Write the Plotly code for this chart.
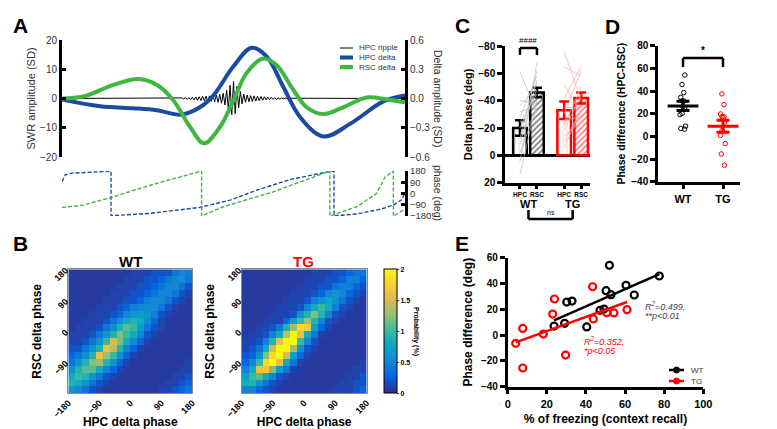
import numpy as np
import plotly.graph_objects as go

W, H = 777, 429
FONT = "Liberation Sans, Arial, sans-serif"
BLUE = "#1b4aa2"
GREEN = "#3fb63f"
RED = "#ff0000"

# ---------------- data ----------------
# A: averaged delta traces around SWR (time in ms)
hpc_delta_t = [-500, -389, -292, -224, -151, -98, -59, 0, 53, 97, 145, 194, 262, 340, 437, 500]
hpc_delta_sd = [-0.01, -0.08, -0.10, -0.12, -0.165, -0.09, 0.03, 0.33, 0.52, 0.43, 0.12, -0.19, -0.39, -0.26, -0.03, 0.03]
rsc_delta_t = [-500, -438, -350, -277, -224, -175, -127, -86, -39, 0, 38, 87, 126, 174, 213, 262, 320, 388, 447, 500]
rsc_delta_sd = [0.0, 0.02, 0.14, 0.20, 0.14, -0.02, -0.29, -0.46, -0.29, -0.02, 0.26, 0.41, 0.34, 0.09, -0.09, -0.16, -0.09, 0.01, -0.01, -0.04]

ripple_t = [-500] + list(range(-150, 155, 5)) + [500]
ripple_sd = [0,
             0.2, -0.2, 0.3, -0.3, 0.3, -0.4, 0.4, -0.5, 0.5, -0.6,
             0.6, -0.7, 0.7, -0.8, 0.8, -0.9, 0.9, -1.0, 1.0, -1.1,
             1.2, -1.3, 1.4, -1.6, 1.8, -2.2, 2.8, -3.6, 4.5, -5.5,
             5.8,
             -5.2, 4.2, -3.2, 2.4, -1.8, 1.5, -1.3, 1.2, -1.1, 1.0,
             -1.0, 0.9, -0.9, 0.8, -0.8, 0.7, -0.6, 0.6, -0.5, 0.5,
             -0.4, 0.4, -0.3, 0.3, -0.3, 0.2, -0.2, 0.2, -0.1, 0.1,
             0]

hpc_phase_t = [-500, -490, -470, -357, -357, -243, -98, -10, 68, 165, 281, 293, 293, 359, 430, 466, 490, 500]
hpc_phase = [95, 150, 163, 178, -178, -159, -111, -53, 27, 112, 176, 180, -178, -164, -125, -93, -50, 5]
rsc_phase_t = [-500, -438, -360, -243, -93, -93, -30, 116, 281, 281, 359, 417, 442, 461, 466, 466, 500]
rsc_phase = [-111, -93, -34, 66, 180, -180, -106, 13, 180, -180, -106, 0, 132, 175, 180, -180, -125]

# B: joint phase probability (%), rows listed top (RSC 170) -> bottom (RSC -170)
phase_bins = [-170, -150, -130, -110, -90, -70, -50, -30, -10, 10, 30, 50, 70, 90, 110, 130, 150, 170]
wt_prob = [
    [.07, .07, .07, .07, .07, .07, .07, .07, .07, .11, .11, .11, .18, .18, .18, .40, .50, .45],
    [.07, .07, .07, .07, .07, .07, .07, .07, .11, .11, .11, .18, .18, .28, .40, .50, .55, .40],
    [.07, .07, .07, .07, .07, .07, .07, .11, .11, .11, .18, .18, .28, .40, .50, .50, .40, .18],
    [.07, .07, .07, .07, .07, .07, .11, .11, .11, .18, .18, .28, .40, .50, .50, .40, .18, .11],
    [.07, .07, .07, .07, .07, .11, .11, .11, .18, .18, .28, .45, .50, .50, .40, .18, .11, .07],
    [.07, .07, .07, .07, .11, .11, .11, .18, .28, .45, .50, .55, .55, .40, .18, .11, .07, .07],
    [.07, .07, .07, .11, .11, .11, .18, .28, .50, .60, .70, .60, .45, .18, .11, .07, .07, .07],
    [.07, .07, .11, .11, .11, .18, .40, .60, .80, .90, .80, .55, .28, .11, .07, .07, .07, .07],
    [.07, .11, .11, .11, .18, .40, .60, .90, 1.1, 1.0, .70, .40, .18, .11, .07, .07, .07, .07],
    [.11, .11, .11, .18, .40, .60, .90, 1.2, 1.0, .80, .50, .18, .11, .07, .07, .07, .07, .07],
    [.11, .11, .18, .40, .60, 1.0, 1.5, 1.2, .80, .50, .28, .11, .07, .07, .07, .07, .07, .07],
    [.18, .18, .40, .60, .90, 1.6, 1.4, .90, .50, .28, .11, .07, .07, .07, .07, .07, .07, .07],
    [.28, .40, .60, .90, 1.6, 1.3, 1.0, .60, .28, .11, .07, .07, .07, .07, .07, .07, .07, .07],
    [.40, .60, .90, 1.2, 1.3, .90, .60, .28, .11, .07, .07, .07, .07, .07, .07, .07, .07, .11],
    [.60, .90, 1.1, 1.1, .80, .50, .28, .11, .07, .07, .07, .07, .07, .07, .07, .07, .11, .11],
    [.80, 1.0, .90, .60, .40, .18, .11, .07, .07, .07, .07, .07, .07, .07, .07, .11, .11, .18],
    [.90, .80, .60, .40, .18, .11, .07, .07, .07, .07, .07, .07, .07, .07, .11, .11, .18, .28],
    [.60, .50, .40, .18, .11, .07, .07, .07, .07, .07, .07, .07, .07, .11, .11, .18, .28, .40],
]
tg_prob = [
    [.07, .07, .07, .07, .07, .07, .07, .07, .07, .07, .11, .11, .11, .18, .18, .28, .40, .40],
    [.07, .07, .07, .07, .07, .07, .07, .07, .07, .11, .11, .11, .18, .18, .28, .45, .45, .28],
    [.07, .07, .07, .07, .07, .07, .07, .07, .11, .11, .11, .18, .18, .40, .45, .45, .28, .18],
    [.07, .07, .07, .07, .07, .07, .07, .11, .11, .11, .18, .28, .50, .60, .50, .28, .18, .11],
    [.07, .07, .07, .07, .07, .07, .11, .11, .11, .18, .45, .60, .75, .60, .40, .18, .11, .07],
    [.07, .07, .07, .07, .07, .11, .11, .11, .18, .50, .80, 1.0, .80, .45, .18, .11, .07, .07],
    [.07, .07, .07, .07, .11, .11, .11, .18, .60, .90, 1.2, .90, .50, .18, .11, .07, .07, .07],
    [.07, .07, .07, .11, .11, .11, .28, .70, 1.0, 1.3, .90, .50, .18, .11, .07, .07, .07, .07],
    [.07, .07, .11, .11, .18, .40, .90, 1.3, 1.8, 1.7, .70, .28, .11, .07, .07, .07, .07, .07],
    [.07, .11, .11, .18, .45, .80, 1.4, 2.0, 1.6, .80, .40, .11, .07, .07, .07, .07, .07, .07],
    [.11, .11, .18, .45, .90, 1.6, 2.0, 2.0, 1.0, .50, .18, .07, .07, .07, .07, .07, .07, .07],
    [.11, .18, .40, .80, 1.5, 2.0, 2.0, 1.3, .60, .18, .11, .07, .07, .07, .07, .07, .07, .07],
    [.18, .28, .60, 1.2, 1.8, 2.0, 1.5, .70, .28, .11, .07, .07, .07, .07, .07, .07, .07, .07],
    [.28, .50, 1.0, 1.8, 2.0, 1.6, .80, .40, .11, .07, .07, .07, .07, .07, .07, .07, .07, .11],
    [.45, .80, 1.6, 1.7, 1.2, .70, .40, .11, .07, .07, .07, .07, .07, .07, .07, .07, .11, .11],
    [.70, 1.0, 1.1, .80, .50, .18, .11, .07, .07, .07, .07, .07, .07, .07, .07, .11, .11, .18],
    [.80, .90, .60, .40, .18, .11, .07, .07, .07, .07, .07, .07, .07, .07, .11, .11, .18, .18],
    [.50, .50, .28, .18, .11, .07, .07, .07, .07, .07, .07, .07, .07, .11, .11, .11, .18, .28],
]

# C: delta phase per animal (deg)
wt_hpc_phase = [14, 5, -2, -8, -12, -16, -20, -24, -28, -32, -36, -40, -61]
wt_rsc_phase = [-40, -68, -35, -55, -62, -30, -48, -45, -58, -36, -52, -38, -31]
tg_hpc_phase = [-76, -65, -52, -42, -35, -30, -26, -22, -18, -14, -10, -6]
tg_rsc_phase = [-40, -58, -30, -65, -35, -62, -28, -50, -45, -25, -33, -33]

# D / E: phase difference vs freezing
wt_freezing = [23.7, 29.1, 30.2, 32.9, 40.4, 47.2, 49.2, 50.3, 52.0, 52.8, 60.5, 64.7, 77.5]
wt_phase_diff = [7.0, 9.1, 25.6, 26.4, 6.3, 19.2, 20.2, 34.4, 54.1, 31.3, 38.6, 31.1, 45.8]
tg_freezing = [4.1, 7.7, 7.7, 18.2, 23.0, 23.9, 29.6, 43.4, 43.8, 50.6, 54.3, 61.0]
tg_phase_diff = [-6.4, 5.2, -25.5, 0.8, 16.3, 28.0, -15.5, 37.5, 12.5, 17.4, 17.2, 19.7]

parula = [[0.0, "#352A87"], [0.125, "#0363E1"], [0.25, "#1485D4"], [0.375, "#06A7C6"],
          [0.5, "#38B99E"], [0.625, "#92BF73"], [0.75, "#D9BA56"], [0.875, "#FCCE2E"],
          [1.0, "#F9FB0E"]]


def px(x):
    return x / W


def py(y):
    return 1 - y / H


def mean_sem(v):
    v = np.asarray(v, float)
    return v.mean(), v.std(ddof=1) / np.sqrt(len(v))


fig = go.Figure()

# ---------------- A ----------------
fig.add_trace(go.Scatter(x=ripple_t, y=ripple_sd, xaxis="x", yaxis="y", mode="lines",
                         line=dict(color="black", width=1), showlegend=False))
fig.add_trace(go.Scatter(x=hpc_delta_t, y=hpc_delta_sd, xaxis="x", yaxis="y2", mode="lines",
                         line=dict(color=BLUE, width=4, shape="spline"), showlegend=False))
fig.add_trace(go.Scatter(x=rsc_delta_t, y=rsc_delta_sd, xaxis="x", yaxis="y2", mode="lines",
                         line=dict(color=GREEN, width=4, shape="spline"), showlegend=False))
fig.add_trace(go.Scatter(x=hpc_phase_t, y=hpc_phase, xaxis="x2", yaxis="y3", mode="lines",
                         line=dict(color=BLUE, width=1.4, dash="4px,2px"), showlegend=False))
fig.add_trace(go.Scatter(x=rsc_phase_t, y=rsc_phase, xaxis="x2", yaxis="y3", mode="lines",
                         line=dict(color=GREEN, width=1.4, dash="4px,2px"), showlegend=False))

# ---------------- C ----------------
c_pos = [0, 1, 2.6, 3.6]
for hpc, rsc, x0, col in [(wt_hpc_phase, wt_rsc_phase, 0, "rgba(190,190,190,0.7)"),
                          (tg_hpc_phase, tg_rsc_phase, 2.6, "rgba(250,170,170,0.7)")]:
    xs, ys = [], []
    for h, r in zip(hpc, rsc):
        xs += [x0, x0 + 1, None]
        ys += [h, r, None]
    fig.add_trace(go.Scatter(x=xs, y=ys, xaxis="x3", yaxis="y4", mode="lines",
                             line=dict(color=col, width=1), showlegend=False))

m1, s1 = mean_sem(wt_hpc_phase)
m2, s2 = mean_sem(wt_rsc_phase)
m3, s3 = mean_sem(tg_hpc_phase)
m4, s4 = mean_sem(tg_rsc_phase)
fig.add_trace(go.Bar(x=c_pos[:2], y=[m1, m2], width=0.8, xaxis="x3", yaxis="y4",
                     marker=dict(color="white", line=dict(color="black", width=2.5),
                                 pattern=dict(shape=["|", "/"], fgcolor=["#b5b5b5", "black"],
                                              size=[4, 4], solidity=[0.2, 0.45])),
                     error_y=dict(type="data", array=[s1, s2], color="black", thickness=2.5, width=5),
                     showlegend=False))
fig.add_trace(go.Bar(x=c_pos[2:], y=[m3, m4], width=0.8, xaxis="x3", yaxis="y4",
                     marker=dict(color="white", line=dict(color=RED, width=2.5),
                                 pattern=dict(shape=["|", "/"], fgcolor=["#ff9a9a", RED],
                                              size=[4, 4], solidity=[0.2, 0.45])),
                     error_y=dict(type="data", array=[s3, s4], color=RED, thickness=2.5, width=5),
                     showlegend=False))

# ---------------- D ----------------
for vals, x0, col in [(wt_phase_diff, 0, "black"), (tg_phase_diff, 1, RED)]:
    fig.add_trace(go.Box(y=vals, x0=x0, xaxis="x4", yaxis="y5", boxpoints="all", jitter=0.5,
                         pointpos=0, width=0.35, fillcolor="rgba(0,0,0,0)",
                         line=dict(width=0, color="rgba(0,0,0,0)"),
                         marker=dict(symbol="circle-open", size=4.5, color=col, line=dict(width=1)),
                         showlegend=False, hoveron="points"))
    m, s = mean_sem(vals)
    fig.add_trace(go.Scatter(x=[x0], y=[m], xaxis="x4", yaxis="y5", mode="markers",
                             marker=dict(symbol="line-ew", size=22, line=dict(width=3, color=col)),
                             error_y=dict(type="data", array=[s], color=col, thickness=3, width=6.5),
                             showlegend=False))

# ---------------- B ----------------
fig.add_trace(go.Heatmap(z=wt_prob[::-1], x=phase_bins, y=phase_bins, coloraxis="coloraxis",
                         xaxis="x5", yaxis="y6"))
fig.add_trace(go.Heatmap(z=tg_prob[::-1], x=phase_bins, y=phase_bins, coloraxis="coloraxis",
                         xaxis="x6", yaxis="y7"))

# ---------------- E ----------------
for fx, fy, col in [(wt_freezing, wt_phase_diff, "black"), (tg_freezing, tg_phase_diff, RED)]:
    k, b = np.polyfit(fx, fy, 1)
    xl = [min(fx), max(fx)]
    fig.add_trace(go.Scatter(x=xl, y=[k * v + b for v in xl], xaxis="x7", yaxis="y8", mode="lines",
                             line=dict(color=col, width=2.5), showlegend=False))
    fig.add_trace(go.Scatter(x=fx, y=fy, xaxis="x7", yaxis="y8", mode="markers",
                             marker=dict(symbol="circle-open", size=7, color=col, line=dict(width=2.2)),
                             showlegend=False))

# ---------------- layout ----------------
ax_a = dict(showline=True, linecolor="black", linewidth=3, ticks="inside", ticklen=4, tickwidth=2.5,
            tickcolor="black", showgrid=False, zeroline=False, automargin=False,
            tickfont=dict(size=10, color="#333", family=FONT))
bold10 = dict(size=10, color="black", family=FONT, weight="bold")
ax_cde = dict(showline=True, linecolor="black", linewidth=2.5, ticks="outside", ticklen=5, tickwidth=2.5,
              tickcolor="black", showgrid=False, zeroline=False, automargin=False, tickfont=bold10)
ax_b = dict(range=[-180, 180], tickangle=-45, showline=True, automargin=False,
            mirror=True, linecolor="#8a8a8a", linewidth=1, ticks="", showgrid=False, zeroline=False,
            tickfont=dict(size=9, color="black", family=FONT, weight="bold"))
b_xt = [-180, -90, 0, 90, 180]
b_yt = [-90, 0, 90, 180]

fig.update_layout(
    width=W, height=H, margin=dict(l=0, r=0, t=0, b=0, autoexpand=False),
    paper_bgcolor="white", plot_bgcolor="white", font=dict(family=FONT, color="black"),
    showlegend=False,
    # A
    xaxis=dict(domain=[px(62), px(405)], range=[-500, 500], visible=False, anchor="y"),
    yaxis=dict(domain=[py(157), py(40)], range=[-20, 20], tickvals=[-20, -10, 0, 10, 20], anchor="x",
               title=dict(text="SWR amplitude (SD)", font=dict(size=11, color="#333"), standoff=3), **ax_a),
    yaxis2=dict(overlaying="y", side="right", anchor="x", range=[-0.6, 0.6],
                tickvals=[-0.6, -0.3, 0, 0.3, 0.6], tickformat=".1f", **ax_a),
    xaxis2=dict(domain=[px(62), px(405)], range=[-500, 500], visible=False, anchor="y3"),
    yaxis3=dict(domain=[py(216), py(171)], anchor="x2", side="right", range=[-180, 180],
                tickvals=[-180, -90, 0, 90, 180],
                **{**ax_a, "tickfont": dict(size=9.5, color="#333", family=FONT)}),
    # C
    xaxis3=dict(domain=[px(505), px(590)], range=[-0.88, 4.12], anchor="y4", tickvals=c_pos,
                ticktext=["HPC", "RSC", "HPC", "RSC"],
                **{**ax_cde, "tickfont": dict(size=6.5, family=FONT, weight="bold", color="black"),
                   "ticklen": 4, "tickangle": 0}),
    yaxis4=dict(domain=[py(182.7), py(46)], range=[20, -80], anchor="x3",
                tickvals=[-80, -60, -40, -20, 0, 20],
                title=dict(text="Delta phase (deg)", font=dict(size=11, weight="bold"), standoff=4),
                **{**ax_cde, "zeroline": True, "zerolinecolor": "black", "zerolinewidth": 2.5}),
    # D
    xaxis4=dict(domain=[px(658), px(740)], range=[-0.625, 1.425], anchor="y5", tickvals=[0, 1],
                ticktext=["WT", "TG"], **{**ax_cde, "tickfont": dict(size=11, family=FONT,
                                                                       weight="bold", color="black")}),
    yaxis5=dict(domain=[py(181.7), py(45.7)], range=[-40, 80], dtick=20, anchor="x4",
                title=dict(text="Phase difference (HPC-RSC)", font=dict(size=10.5, weight="bold"),
                           standoff=4), **ax_cde),
    # B
    xaxis5=dict(domain=[px(68.3), px(192.3)], anchor="y6", tickvals=b_xt,
                title=dict(text="HPC delta phase", font=dict(size=12, weight="bold"), standoff=0), **ax_b),
    yaxis6=dict(domain=[py(393.3), py(269.3)], anchor="x5", tickvals=b_yt,
                title=dict(text="RSC delta phase", font=dict(size=12, weight="bold"), standoff=8), **ax_b),
    xaxis6=dict(domain=[px(241.7), px(366.7)], anchor="y7", tickvals=b_xt,
                title=dict(text="HPC delta phase", font=dict(size=12, weight="bold"), standoff=0), **ax_b),
    yaxis7=dict(domain=[py(393.3), py(269.3)], anchor="x6", tickvals=b_yt,
                title=dict(text="RSC delta phase", font=dict(size=12, weight="bold"), standoff=8), **ax_b),
    # E
    xaxis7=dict(domain=[px(507.7), px(703.3)], range=[0, 100], dtick=20, anchor="y8",
                title=dict(text="% of freezing (context recall)", font=dict(size=12, weight="bold"),
                           standoff=6), **{**ax_cde, "tickfont": dict(size=11, family=FONT,
                                                                      weight="bold", color="black")}),
    yaxis8=dict(domain=[py(386.7), py(257.7)], range=[-40, 60], dtick=20, anchor="x7",
                title=dict(text="Phase difference (deg)", font=dict(size=12, weight="bold"), standoff=6),
                **ax_cde),
    coloraxis=dict(colorscale=parula, cmin=0, cmax=2,
                   colorbar=dict(x=px(384), xanchor="left", y=py(331.3), yanchor="middle",
                                 len=124 / H, lenmode="fraction", thickness=13, thicknessmode="pixels",
                                 outlinewidth=1, outlinecolor="black", tickvals=[0, 0.5, 1, 1.5, 2],
                                 ticktext=["0", "0.5", "1", "1.5", "2"], ticks="outside", ticklen=2,
                                 tickfont=dict(size=7, weight="bold"), xpad=0, ypad=0)),
)

ann = []
shapes = []


def note(text, x, y, size=10, color="black", weight="normal", angle=0, xref="paper", style="normal",
         xanchor="center"):
    ann.append(dict(text=text, x=x if xref != "paper" else px(x), y=py(y), xref=xref, yref="paper",
                    showarrow=False, textangle=angle, xanchor=xanchor, yanchor="middle",
                    font=dict(size=size, color=color, weight=weight, style=style, family=FONT)))


def key_line(x0, x1, y, color, width):
    shapes.append(dict(type="line", xref="paper", yref="paper", x0=px(x0), x1=px(x1), y0=py(y), y1=py(y),
                       line=dict(color=color, width=width)))


def key_dot(x, y, r, color):
    shapes.append(dict(type="circle", xref="paper", yref="paper", x0=px(x - r), x1=px(x + r),
                       y0=py(y + r), y1=py(y - r), fillcolor=color, line=dict(color=color, width=1)))


for lab, x, y in [("A", 20, 25), ("B", 20, 243), ("C", 462, 25), ("D", 612, 27), ("E", 462, 243)]:
    note(lab, x, y, size=21, weight="bold")
note("Delta amplitude (SD)", 438, 98, size=10.5, color="#333", angle=90)
note("phase (deg)", 438, 193, size=10.5, color="#333", angle=90)

# panel A key
for (lab, col, lw), yk in zip([("HPC ripple", "black", 1), ("HPC delta", BLUE, 4), ("RSC delta", GREEN, 4)],
                              [48, 57.5, 67]):
    key_line(340, 353, yk, col, lw)
    note(lab, 357, yk, size=8, color="#333", xanchor="left")

# panel E key
for (lab, col), yk in zip([("WT", "black"), ("TG", RED)], [370, 381]):
    key_line(669, 684, yk, col, 2.5)
    key_dot(676.5, yk, 3, col)
    note(lab, 689, yk, size=8, color="#333", xanchor="left")

note("####", 0.5, 41, size=8, xref="x3")
note("WT", 0.5, 204, size=11, weight="bold", xref="x3")
note("TG", 3.1, 204, size=11, weight="bold", xref="x3")
note("ns", 1.8, 212.5, size=7, xref="x3")
note("*", 0.5, 51, size=10, weight="bold", xref="x4")
note("WT", 130, 261, size=15, weight="bold")
note("TG", 303, 261, size=15, weight="bold", color=RED)
note("Probability (%)", 416, 331, size=7, weight="bold", angle=90)
note("R<sup>2</sup>=0.499,", 643, 306, size=9, color="#444", style="italic", xanchor="left")
note("**p<0.01", 643, 316, size=9, color="#444", style="italic", xanchor="left")
note("R<sup>2</sup>=0.352,", 582, 341, size=9, color=RED, style="italic", xanchor="left")
note("*p<0.05", 582, 351, size=9, color=RED, style="italic", xanchor="left")


def bracket(xref, x0, x1, ytop, ybot, up=True):
    y_end = ybot if up else ytop
    y_bar = ytop if up else ybot
    for xa, xb, ya, yb in [(x0, x0, y_end, y_bar), (x0, x1, y_bar, y_bar), (x1, x1, y_bar, y_end)]:
        shapes.append(dict(type="line", xref=xref, yref="paper", x0=xa, x1=xb, y0=py(ya), y1=py(yb),
                           line=dict(color="black", width=2.5)))


bracket("x3", 0, 1, 48, 55, up=True)
bracket("x3", 0.5, 3.1, 210, 219, up=False)
bracket("x4", 0, 1, 58, 67, up=True)

fig.update_layout(annotations=ann, shapes=shapes)
# drop the browser's default page margin so the figure sits at the window origin
fig.write_html("out.html", config={"displayModeBar": False},
               post_script="document.body.style.margin='0';")
